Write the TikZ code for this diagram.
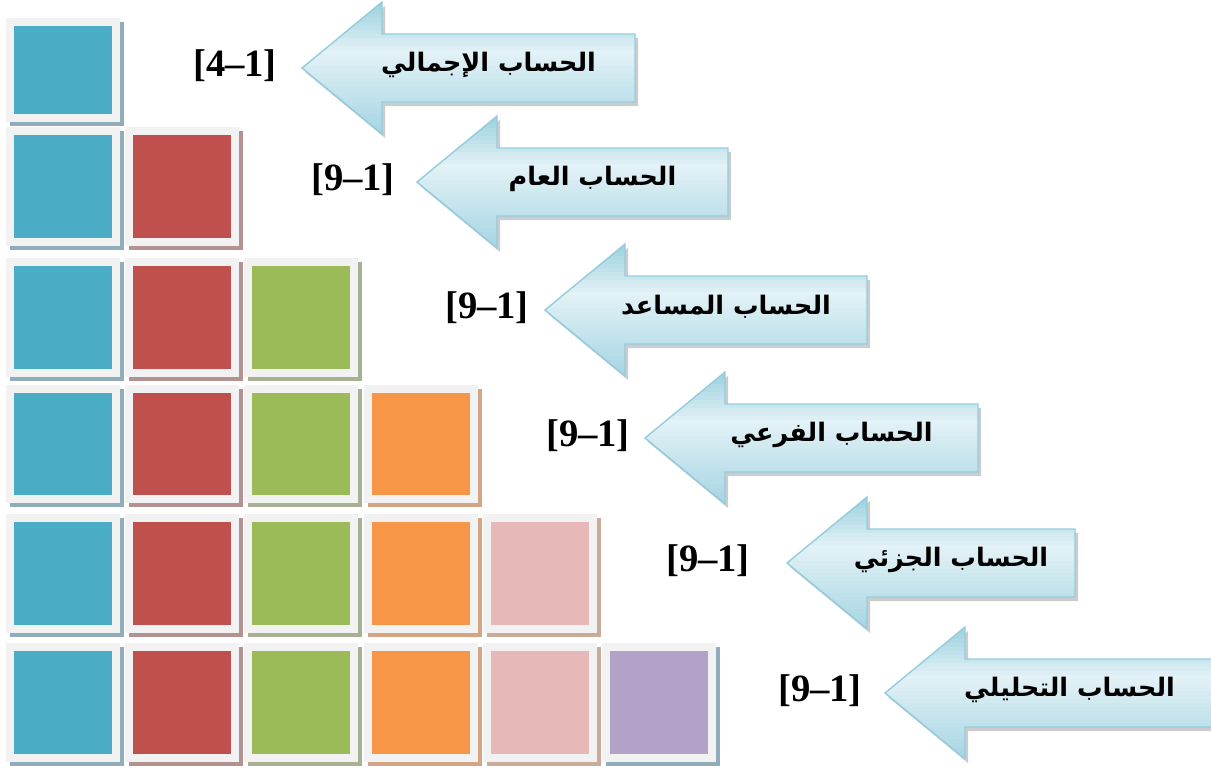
\documentclass[tikz,border=0pt]{standalone}
\usepackage{fontspec}
\setmainfont{Liberation Serif}
\newfontfamily\arabicfont[Script=Arabic]{DejaVu Sans}
\TeXXeTstate=1
\usetikzlibrary{positioning}
\definecolor{framegray}{HTML}{F2F2F2}
\definecolor{tile1}{HTML}{4BACC6}
\definecolor{tile2}{HTML}{C0504D}
\definecolor{tile3}{HTML}{9BBB59}
\definecolor{tile4}{HTML}{F79646}
\definecolor{tile5}{HTML}{E6B9B8}
\definecolor{tile6}{HTML}{B2A2C7}
\definecolor{shd1}{HTML}{8FAEB9}
\definecolor{shd2}{HTML}{B59292}
\definecolor{shd3}{HTML}{A6B293}
\definecolor{shd4}{HTML}{D4A584}
\definecolor{shd5}{HTML}{C9AC98}
\definecolor{shd6}{HTML}{8FAEB9}
\definecolor{arrtop}{HTML}{9DD1E0}
\definecolor{arrmid}{HTML}{E3F2F6}
\definecolor{arrbot}{HTML}{A4D4E2}
\definecolor{arredge}{HTML}{93CDDD}

\begin{document}
\begin{tikzpicture}[x=0.02cm, y=-0.02cm,
    arrowedge/.style={draw=arredge, line width=0.8pt, line join=miter},
    arrowshadow/.style={fill=black!40, opacity=0.5},
    rangelabel/.style={font=\bfseries\fontsize{22}{24}\selectfont},
    accname/.style={font=\arabicfont\bfseries\fontsize{14.5}{18}\selectfont}]
    \useasboundingbox (0,0) rectangle (1211,769);
    % staircase of tiles
    \foreach \r/\ty/\h in {1/18/104, 2/127/119, 3/258/119, 4/385/118, 5/514/119, 6/643/119} {
      \foreach \c in {1,...,\r} {
        \pgfmathsetmacro\xl{6+119.2*(\c-1)}
        \fill[shd\c] (\xl+4,\ty+4) rectangle ++(114,\h);
        \fill[framegray] (\xl,\ty) rectangle ++(114,\h);
        \fill[tile\c] (\xl+8,\ty+8) rectangle ++(98,\h-16);
      }
    }
    % arrows with account levels
    \foreach \i/\tx/\cy/\rx/\lx/\lab/\txt in {
        1/302/68/635/235/4/الحساب الإجمالي,
        2/417/182/728/353/9/الحساب العام,
        3/545/310/867/487/9/الحساب المساعد,
        4/645/438/978/588/9/الحساب الفرعي,
        5/787/563/1075/708/9/الحساب الجزئي,
        6/885/693/1214/820/9/الحساب التحليلي} {
      \fill[arrowshadow] (\tx+3,\cy+4) -- (\tx+83,\cy-62) -- (\tx+83,\cy-30) -- (\rx+3,\cy-30)
        -- (\rx+3,\cy+38) -- (\tx+83,\cy+38) -- (\tx+83,\cy+70) -- cycle;
      \begin{scope}
        \clip (\tx,\cy) -- (\tx+80,\cy-66) -- (\tx+80,\cy-34) -- (\rx,\cy-34)
          -- (\rx,\cy+34) -- (\tx+80,\cy+34) -- (\tx+80,\cy+66) -- cycle;
        \foreach \k in {0,...,33} {
          \pgfmathtruncatemacro\pa{min(100,\k/12*100)}
          \pgfmathtruncatemacro\pb{max(0,(\k-12)/21*100)}
          \fill[arrbot!\pb!arrmid!\pa!arrtop] (\tx-2,\cy-66+4*\k) rectangle (\rx+2,\cy-61.5+4*\k);
        }
      \end{scope}
      \path[arrowedge] (\tx,\cy) -- (\tx+80,\cy-66) -- (\tx+80,\cy-34) -- (\rx,\cy-34)
        -- (\rx,\cy+34) -- (\tx+80,\cy+34) -- (\tx+80,\cy+66) -- cycle;
      \node[accname] (acc\i) at ({(\tx+\rx)/2+20}, \cy-3) {\beginR\txt\endR};
      \node[rangelabel] (rng\i) at (\lx, \cy-2) {[\lab\textendash1]};
    }
\end{tikzpicture}
\end{document}
